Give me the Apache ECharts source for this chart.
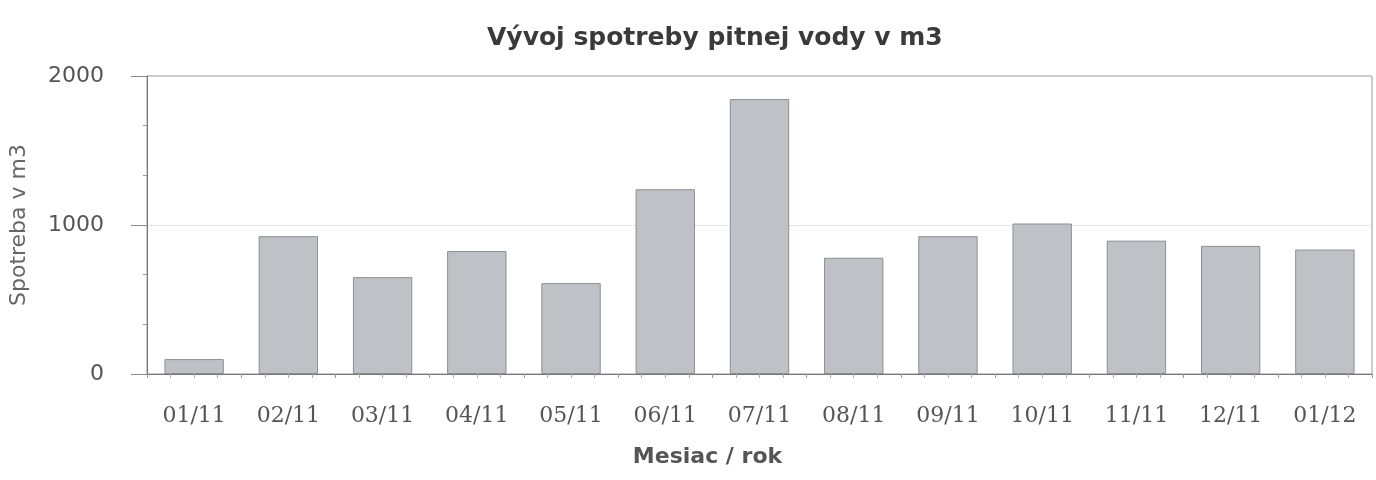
<!DOCTYPE html>
<html>
<head>
<meta charset="utf-8">
<script src="https://cdn.jsdelivr.net/npm/echarts@6/dist/echarts.min.js"></script>
<style>
html,body{margin:0;padding:0;background:#fff;}
#chart{width:1376px;height:480px;}
</style>
</head>
<body>
<div id="chart"></div>
<script>
// mesiace a spotreba vody
var mesiace = ['01/11','02/11','03/11','04/11','05/11','06/11','07/11','08/11','09/11','10/11','11/11','12/11','01/12'];
var spotreba = [100,925,650,825,610,1240,1845,780,925,1010,895,860,835];

var myChart = echarts.init(document.getElementById('chart'));
var option = {
    backgroundColor:'#fff',
    title:{
        text:'Vývoj spotreby pitnej vody v m3',
        left:482,
        top:21,
        textStyle:{
            fontFamily:'DejaVu Sans',
            fontSize:25,
            fontWeight:'bold',
            color:'#3a3a3a'
        }
    },
    grid:{
        left:145,
        right:4,
        top:76,
        bottom:106,
        show:true,
        borderColor:'#999',
        borderWidth:1
    },
    xAxis:[
        {
            type:'category',
            data:mesiace,
            name:'Mesiac / rok',
            nameLocation:'middle',
            nameGap:72,
            nameTextStyle:{
                fontFamily:'DejaVu Sans',
                fontSize:22,
                fontWeight:'bold',
                color:'#555',
                padding:[0,104,0,0]
            },
            axisLine:{lineStyle:{color:'#777'}},
            axisTick:{
                alignWithLabel:true,
                length:10,
                lineStyle:{color:'#888'}
            },
            axisLabel:{
                fontFamily:'DejaVu Serif',
                fontSize:22,
                color:'#555',
                margin:31
            }
        },
        {
            // jemne dielky pod osou
            type:'value',
            min:0,
            max:mesiace.length,
            interval:1,
            position:'bottom',
            axisLine:{show:false},
            axisLabel:{show:false},
            splitLine:{show:false},
            axisTick:{show:true,length:4,lineStyle:{color:'#999'}},
            minorTick:{show:true,splitNumber:4,length:4,lineStyle:{color:'#aaa'}}
        }
    ],
    yAxis:{
        type:'value',
        min:0,
        max:2000,
        interval:1000,
        name:'Spotreba v m3',
        nameLocation:'middle',
        nameGap:117,
        nameRotate:90,
        nameTextStyle:{
            fontFamily:'DejaVu Sans',
            fontSize:22,
            color:'#666'
        },
        axisLine:{show:true,lineStyle:{color:'#777'}},
        axisTick:{
            show:true,
            length:16,
            lineStyle:{color:'#888'}
        },
        minorTick:{
            show:true,
            splitNumber:3,
            length:4,
            lineStyle:{color:'#999'}
        },
        axisLabel:{
            fontFamily:'DejaVu Sans',
            fontSize:22,
            color:'#555',
            margin:43,
            formatter:function(v){ return String(v); }
        },
        splitLine:{
            lineStyle:{color:'#ccc',type:'dotted'}
        }
    },
    series:[
        {
            type:'bar',
            data:spotreba,
            barCategoryGap:'37%',
            itemStyle:{
                color:'#bfc1c6',
                borderColor:'#8c8e92',
                borderWidth:1
            }
        }
    ]
};
myChart.setOption(option);
</script>
</body>
</html>
